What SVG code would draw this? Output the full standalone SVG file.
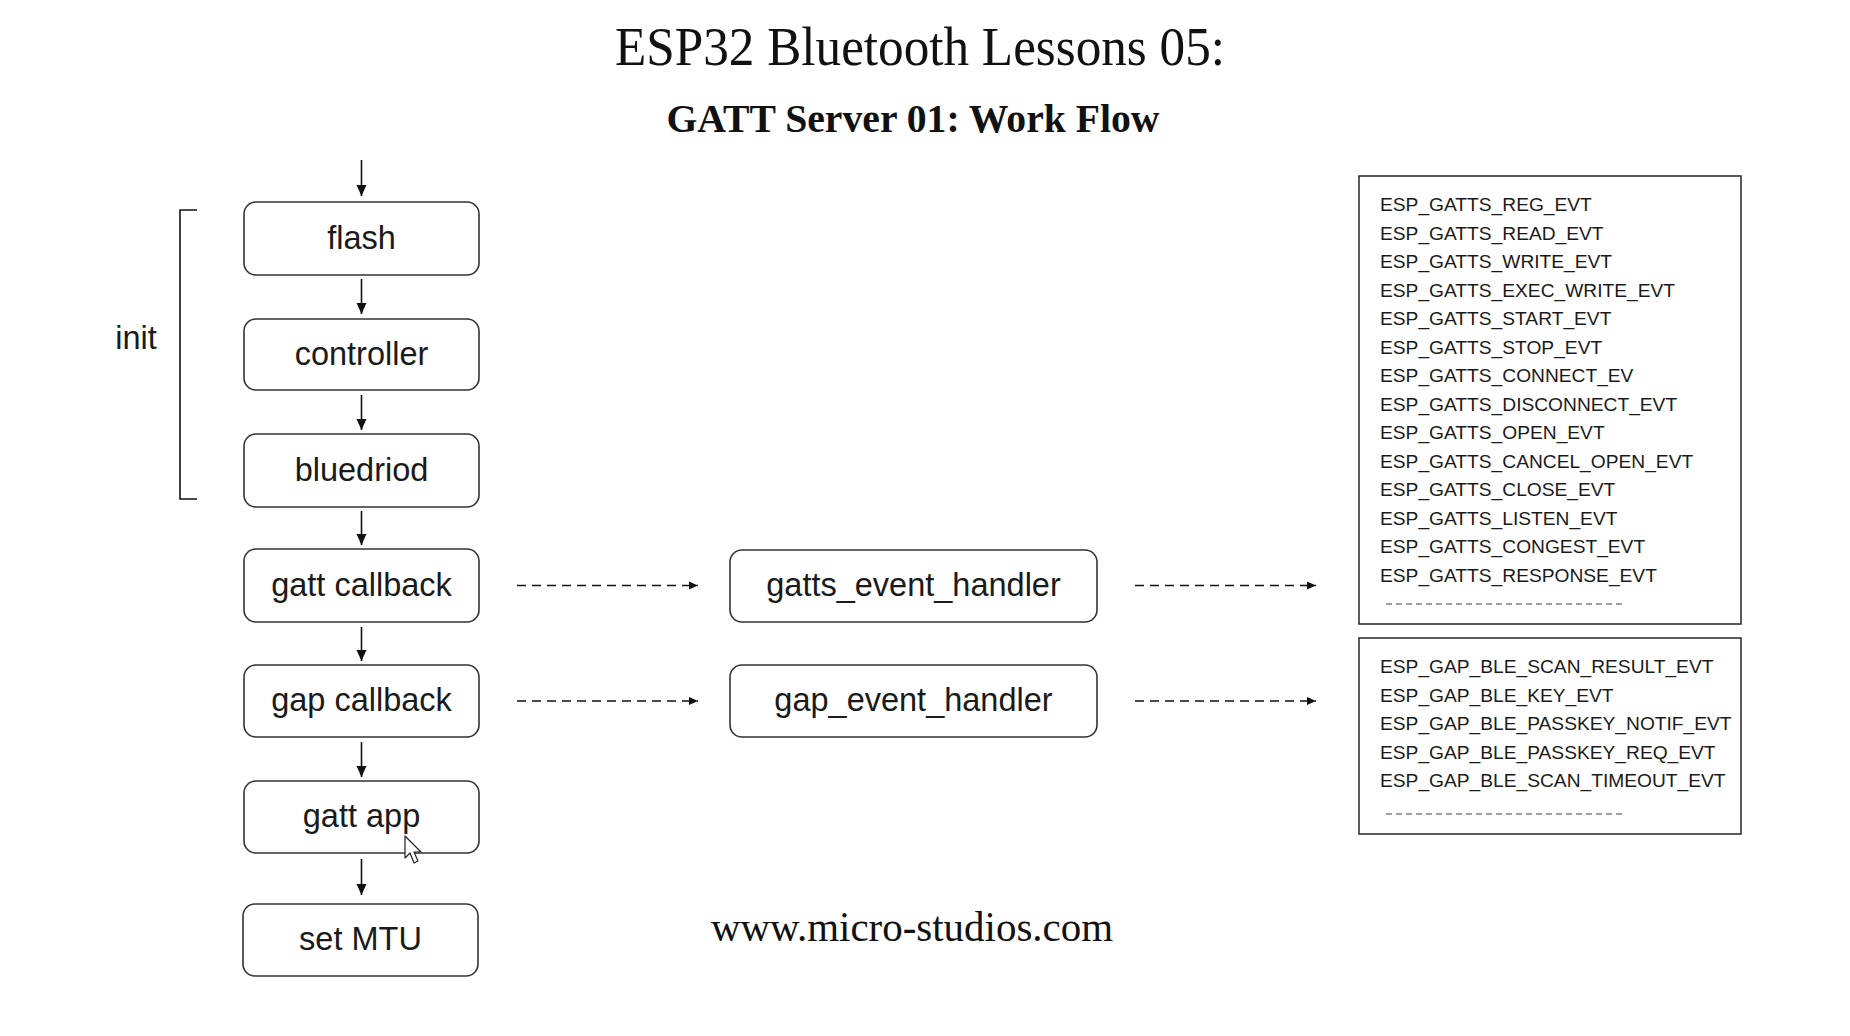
<svg xmlns="http://www.w3.org/2000/svg" width="1850" height="1036" viewBox="0 0 1850 1036">
  <style>
    .box { fill: #ffffff; stroke: #333333; stroke-width: 1.6; }
    .lbl { font-family: "Liberation Sans", Arial, sans-serif; font-size: 32.5px; fill: #1a1a1a; text-anchor: middle; }
    .evt { font-family: "Liberation Sans", Arial, sans-serif; font-size: 19.2px; fill: #1a1a1a; }
    .serif { font-family: "Liberation Serif", "Times New Roman", serif; fill: #111111; text-anchor: middle; }
    .solid { stroke: #111111; stroke-width: 1.6; fill: none; }
    .dash { stroke: #111111; stroke-width: 1.6; fill: none; stroke-dasharray: 9 6; }
    .list { fill: #ffffff; stroke: #333333; stroke-width: 1.6; }
    .sep { stroke: #444444; stroke-width: 1.2; stroke-dasharray: 6 4; }
  </style>
  <defs>
    <marker id="ah" markerUnits="userSpaceOnUse" markerWidth="12" markerHeight="12" viewBox="0 0 12 12" refX="11" refY="6" orient="auto">
      <path d="M0,1 L11,6 L0,11 Z" fill="#111111"/>
    </marker>
    <marker id="ahs" markerUnits="userSpaceOnUse" markerWidth="10" markerHeight="10" viewBox="0 0 10 10" refX="9" refY="5" orient="auto">
      <path d="M0,1 L9,5 L0,9 Z" fill="#111111"/>
    </marker>
  </defs>
  <rect width="1850" height="1036" fill="#ffffff"/>

  <!-- titles -->
  <text class="serif" x="920" y="65" font-size="55" textLength="610" lengthAdjust="spacingAndGlyphs">ESP32 Bluetooth Lessons 05:</text>
  <text class="serif" x="913" y="132" font-size="41" font-weight="bold" textLength="493" lengthAdjust="spacingAndGlyphs">GATT Server 01: Work Flow</text>
  <text class="serif" x="912" y="941" font-size="42" textLength="402" lengthAdjust="spacingAndGlyphs">www.micro-studios.com</text>

  <!-- init bracket -->
  <g id="init-bracket">
    <path d="M197,210 L180,210 L180,499 L197,499" class="solid"/>
    <text class="lbl" x="136" y="349">init</text>
  </g>

  <!-- connectors -->
  <g id="connectors">
    <line class="solid" x1="361.5" y1="160" x2="361.5" y2="196" marker-end="url(#ah)"/>
    <line class="solid" x1="361.5" y1="279" x2="361.5" y2="314" marker-end="url(#ah)"/>
    <line class="solid" x1="361.5" y1="395" x2="361.5" y2="430" marker-end="url(#ah)"/>
    <line class="solid" x1="361.5" y1="511" x2="361.5" y2="545" marker-end="url(#ah)"/>
    <line class="solid" x1="361.5" y1="627" x2="361.5" y2="661" marker-end="url(#ah)"/>
    <line class="solid" x1="361.5" y1="742" x2="361.5" y2="777" marker-end="url(#ah)"/>
    <line class="solid" x1="361.5" y1="859" x2="361.5" y2="895" marker-end="url(#ah)"/>
    <line class="dash" x1="517" y1="585.5" x2="698" y2="585.5" marker-end="url(#ahs)"/>
    <line class="dash" x1="1135" y1="585.5" x2="1316" y2="585.5" marker-end="url(#ahs)"/>
    <line class="dash" x1="517" y1="701" x2="698" y2="701" marker-end="url(#ahs)"/>
    <line class="dash" x1="1135" y1="701" x2="1316" y2="701" marker-end="url(#ahs)"/>
  </g>

  <!-- left column nodes -->
  <g id="flash"><rect class="box" x="244" y="202" width="235" height="73" rx="12"/><text class="lbl" x="361.5" y="249">flash</text></g>
  <g id="controller"><rect class="box" x="244" y="319" width="235" height="71" rx="12"/><text class="lbl" x="361.5" y="365">controller</text></g>
  <g id="bluedriod"><rect class="box" x="244" y="434" width="235" height="73" rx="12"/><text class="lbl" x="361.5" y="481">bluedriod</text></g>
  <g id="gatt-callback"><rect class="box" x="244" y="549" width="235" height="73" rx="12"/><text class="lbl" x="361.5" y="596">gatt callback</text></g>
  <g id="gap-callback"><rect class="box" x="244" y="665" width="235" height="72" rx="12"/><text class="lbl" x="361.5" y="711">gap callback</text></g>
  <g id="gatt-app"><rect class="box" x="244" y="781" width="235" height="72" rx="12"/><text class="lbl" x="361.5" y="827">gatt app</text></g>
  <g id="set-mtu"><rect class="box" x="243" y="904" width="235" height="72" rx="12"/><text class="lbl" x="360.5" y="950">set MTU</text></g>

  <!-- handlers -->
  <g id="gatts-event-handler"><rect class="box" x="730" y="550" width="367" height="72" rx="12"/><text class="lbl" x="913.5" y="596">gatts_event_handler</text></g>
  <g id="gap-event-handler"><rect class="box" x="730" y="665" width="367" height="72" rx="12"/><text class="lbl" x="913.5" y="711">gap_event_handler</text></g>

  <!-- GATTS event list -->
  <g id="gatts-events">
    <rect class="list" x="1359" y="176" width="382" height="448"/>
    <text class="evt" x="1380" y="211">ESP_GATTS_REG_EVT</text>
    <text class="evt" x="1380" y="239.5">ESP_GATTS_READ_EVT</text>
    <text class="evt" x="1380" y="268">ESP_GATTS_WRITE_EVT</text>
    <text class="evt" x="1380" y="296.5">ESP_GATTS_EXEC_WRITE_EVT</text>
    <text class="evt" x="1380" y="325">ESP_GATTS_START_EVT</text>
    <text class="evt" x="1380" y="353.5">ESP_GATTS_STOP_EVT</text>
    <text class="evt" x="1380" y="382">ESP_GATTS_CONNECT_EV</text>
    <text class="evt" x="1380" y="410.5">ESP_GATTS_DISCONNECT_EVT</text>
    <text class="evt" x="1380" y="439">ESP_GATTS_OPEN_EVT</text>
    <text class="evt" x="1380" y="467.5">ESP_GATTS_CANCEL_OPEN_EVT</text>
    <text class="evt" x="1380" y="496">ESP_GATTS_CLOSE_EVT</text>
    <text class="evt" x="1380" y="524.5">ESP_GATTS_LISTEN_EVT</text>
    <text class="evt" x="1380" y="553">ESP_GATTS_CONGEST_EVT</text>
    <text class="evt" x="1380" y="581.5">ESP_GATTS_RESPONSE_EVT</text>
    <line class="sep" x1="1386" y1="604" x2="1622" y2="604"/>
  </g>

  <!-- GAP event list -->
  <g id="gap-events">
    <rect class="list" x="1359" y="638" width="382" height="196"/>
    <text class="evt" x="1380" y="673">ESP_GAP_BLE_SCAN_RESULT_EVT</text>
    <text class="evt" x="1380" y="701.5">ESP_GAP_BLE_KEY_EVT</text>
    <text class="evt" x="1380" y="730">ESP_GAP_BLE_PASSKEY_NOTIF_EVT</text>
    <text class="evt" x="1380" y="758.5">ESP_GAP_BLE_PASSKEY_REQ_EVT</text>
    <text class="evt" x="1380" y="787">ESP_GAP_BLE_SCAN_TIMEOUT_EVT</text>
    <line class="sep" x1="1386" y1="814" x2="1622" y2="814"/>
  </g>

  <!-- mouse pointer -->
  <path d="M405,836 L405,858 L410,853 L414,863 L418,861 L414,852 L421,852 Z" fill="#ffffff" stroke="#222222" stroke-width="1.2" stroke-linejoin="round"/>
</svg>
